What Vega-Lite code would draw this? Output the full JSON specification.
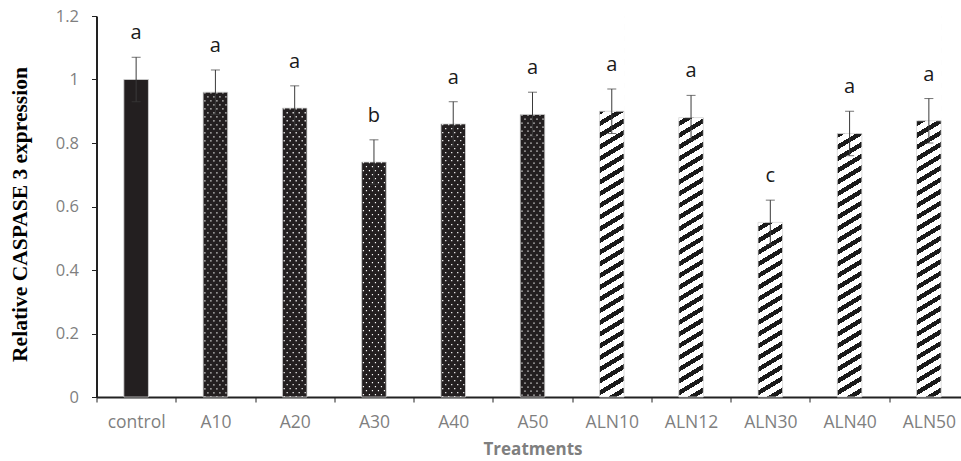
{
  "$schema": "https://vega.github.io/schema/vega-lite/v6.json",
  "width": 864,
  "height": 381,
  "autosize": {"type": "none"},
  "padding": {"left": 96.5, "top": 16, "right": 0, "bottom": 64},
  "config": {"font": "Open Sans", "view": {"stroke": null}},
  "data": {
    "values": [
      {"t": "control", "group": "control", "value": 1.0, "lower": 0.93, "upper": 1.07, "letter": "a"},
      {"t": "A10", "group": "A", "value": 0.96, "lower": 0.89, "upper": 1.03, "letter": "a"},
      {"t": "A20", "group": "A", "value": 0.91, "lower": 0.84, "upper": 0.98, "letter": "a"},
      {"t": "A30", "group": "A", "value": 0.74, "lower": 0.67, "upper": 0.81, "letter": "b"},
      {"t": "A40", "group": "A", "value": 0.86, "lower": 0.79, "upper": 0.93, "letter": "a"},
      {"t": "A50", "group": "A", "value": 0.89, "lower": 0.82, "upper": 0.96, "letter": "a"},
      {"t": "ALN10", "group": "ALN", "value": 0.90, "lower": 0.83, "upper": 0.97, "letter": "a"},
      {"t": "ALN12", "group": "ALN", "value": 0.88, "lower": 0.81, "upper": 0.95, "letter": "a"},
      {"t": "ALN30", "group": "ALN", "value": 0.55, "lower": 0.48, "upper": 0.62, "letter": "c"},
      {"t": "ALN40", "group": "ALN", "value": 0.83, "lower": 0.76, "upper": 0.90, "letter": "a"},
      {"t": "ALN50", "group": "ALN", "value": 0.87, "lower": 0.80, "upper": 0.94, "letter": "a"}
    ]
  },
  "encoding": {
    "x": {
      "field": "t", "type": "nominal", "sort": null,
      "scale": {"range": [0, 872], "paddingInner": 0, "paddingOuter": 0},
      "axis": {
        "title": "Treatments", "titleFont": "Open Sans", "titleFontWeight": "bold", "titleFontSize": 17, "titleColor": "#7f7f7f", "titlePadding": 11,
        "labelFont": "Open Sans", "labelFontSize": 17.5, "labelColor": "#7f7f7f", "labelAngle": 0, "labelPadding": 11,
        "tickBand": "extent", "tickSize": 5, "tickColor": "#222222", "tickWidth": 1,
        "domainColor": "#222222", "domainWidth": 2, "grid": false
      }
    }
  },
  "layer": [
    {
      "transform": [{"filter": "datum.group !== 'ALN'"}],
      "mark": {"type": "bar", "fill": "#231f20", "width": {"band": 0.31}},
      "encoding": {
        "y": {
          "field": "value", "type": "quantitative", "title": "Relative CASPASE 3 expression",
          "scale": {"domain": [0, 1.2], "nice": false},
          "axis": {
            "title": "Relative CASPASE 3 expression", "titleFont": "Liberation Serif", "titleFontWeight": "bold", "titleFontSize": 21.5, "titleColor": "#000000",
            "titleAngle": 270, "titleX": -76, "titleY": 198, "titleBaseline": "middle", "titleAlign": "center",
            "values": [0, 0.2, 0.4, 0.6, 0.8, 1, 1.2], "format": "~g",
            "labelFont": "Open Sans", "labelFontSize": 16.5, "labelColor": "#7f7f7f", "labelPadding": 13,
            "tickSize": 5, "tickColor": "#222222", "tickWidth": 1,
            "domainColor": "#222222", "domainWidth": 2, "grid": false
          }
        },
        "y2": {"datum": 0}
      }
    },
    {
      "transform": [{"filter": "datum.group === 'A'"}],
      "encoding": {
        "y": {"field": "value", "type": "quantitative", "title": "Relative CASPASE 3 expression"},
        "y2": {"datum": 0}
      },
      "layer": [
        {"mark": {"type": "rule", "color": "#ffffff", "strokeWidth": 1.2, "strokeDash": [1.3, 6.7], "strokeDashOffset": 0, "xOffset": -10.5}},
        {"mark": {"type": "rule", "color": "#ffffff", "strokeWidth": 1.2, "strokeDash": [1.3, 6.7], "strokeDashOffset": 4, "xOffset": -7.5}},
        {"mark": {"type": "rule", "color": "#ffffff", "strokeWidth": 1.2, "strokeDash": [1.3, 6.7], "strokeDashOffset": 0, "xOffset": -4.5}},
        {"mark": {"type": "rule", "color": "#ffffff", "strokeWidth": 1.2, "strokeDash": [1.3, 6.7], "strokeDashOffset": 4, "xOffset": -1.5}},
        {"mark": {"type": "rule", "color": "#ffffff", "strokeWidth": 1.2, "strokeDash": [1.3, 6.7], "strokeDashOffset": 0, "xOffset": 1.5}},
        {"mark": {"type": "rule", "color": "#ffffff", "strokeWidth": 1.2, "strokeDash": [1.3, 6.7], "strokeDashOffset": 4, "xOffset": 4.5}},
        {"mark": {"type": "rule", "color": "#ffffff", "strokeWidth": 1.2, "strokeDash": [1.3, 6.7], "strokeDashOffset": 0, "xOffset": 7.5}},
        {"mark": {"type": "rule", "color": "#ffffff", "strokeWidth": 1.2, "strokeDash": [1.3, 6.7], "strokeDashOffset": 4, "xOffset": 10.5}}
      ]
    },
    {
      "transform": [{"filter": "datum.group === 'ALN'"}],
      "mark": {
        "type": "bar", "width": {"band": 0.31},
        "fill": {
          "gradient": "linear", "x1": 0, "y1": 0, "x2": 0.0475, "y2": 1.2265,
          "stops": [
            {"offset": 0, "color": "#1a1a1a"}, {"offset": 0.011, "color": "#1a1a1a"}, {"offset": 0.011, "color": "#ffffff"}, {"offset": 0.025, "color": "#ffffff"},
            {"offset": 0.025, "color": "#1a1a1a"}, {"offset": 0.036, "color": "#1a1a1a"}, {"offset": 0.036, "color": "#ffffff"}, {"offset": 0.05, "color": "#ffffff"},
            {"offset": 0.05, "color": "#1a1a1a"}, {"offset": 0.061, "color": "#1a1a1a"}, {"offset": 0.061, "color": "#ffffff"}, {"offset": 0.075, "color": "#ffffff"},
            {"offset": 0.075, "color": "#1a1a1a"}, {"offset": 0.086, "color": "#1a1a1a"}, {"offset": 0.086, "color": "#ffffff"}, {"offset": 0.1, "color": "#ffffff"},
            {"offset": 0.1, "color": "#1a1a1a"}, {"offset": 0.111, "color": "#1a1a1a"}, {"offset": 0.111, "color": "#ffffff"}, {"offset": 0.125, "color": "#ffffff"},
            {"offset": 0.125, "color": "#1a1a1a"}, {"offset": 0.136, "color": "#1a1a1a"}, {"offset": 0.136, "color": "#ffffff"}, {"offset": 0.15, "color": "#ffffff"},
            {"offset": 0.15, "color": "#1a1a1a"}, {"offset": 0.161, "color": "#1a1a1a"}, {"offset": 0.161, "color": "#ffffff"}, {"offset": 0.175, "color": "#ffffff"},
            {"offset": 0.175, "color": "#1a1a1a"}, {"offset": 0.186, "color": "#1a1a1a"}, {"offset": 0.186, "color": "#ffffff"}, {"offset": 0.2, "color": "#ffffff"},
            {"offset": 0.2, "color": "#1a1a1a"}, {"offset": 0.211, "color": "#1a1a1a"}, {"offset": 0.211, "color": "#ffffff"}, {"offset": 0.225, "color": "#ffffff"},
            {"offset": 0.225, "color": "#1a1a1a"}, {"offset": 0.236, "color": "#1a1a1a"}, {"offset": 0.236, "color": "#ffffff"}, {"offset": 0.25, "color": "#ffffff"},
            {"offset": 0.25, "color": "#1a1a1a"}, {"offset": 0.261, "color": "#1a1a1a"}, {"offset": 0.261, "color": "#ffffff"}, {"offset": 0.275, "color": "#ffffff"},
            {"offset": 0.275, "color": "#1a1a1a"}, {"offset": 0.286, "color": "#1a1a1a"}, {"offset": 0.286, "color": "#ffffff"}, {"offset": 0.3, "color": "#ffffff"},
            {"offset": 0.3, "color": "#1a1a1a"}, {"offset": 0.311, "color": "#1a1a1a"}, {"offset": 0.311, "color": "#ffffff"}, {"offset": 0.325, "color": "#ffffff"},
            {"offset": 0.325, "color": "#1a1a1a"}, {"offset": 0.336, "color": "#1a1a1a"}, {"offset": 0.336, "color": "#ffffff"}, {"offset": 0.35, "color": "#ffffff"},
            {"offset": 0.35, "color": "#1a1a1a"}, {"offset": 0.361, "color": "#1a1a1a"}, {"offset": 0.361, "color": "#ffffff"}, {"offset": 0.375, "color": "#ffffff"},
            {"offset": 0.375, "color": "#1a1a1a"}, {"offset": 0.386, "color": "#1a1a1a"}, {"offset": 0.386, "color": "#ffffff"}, {"offset": 0.4, "color": "#ffffff"},
            {"offset": 0.4, "color": "#1a1a1a"}, {"offset": 0.411, "color": "#1a1a1a"}, {"offset": 0.411, "color": "#ffffff"}, {"offset": 0.425, "color": "#ffffff"},
            {"offset": 0.425, "color": "#1a1a1a"}, {"offset": 0.436, "color": "#1a1a1a"}, {"offset": 0.436, "color": "#ffffff"}, {"offset": 0.45, "color": "#ffffff"},
            {"offset": 0.45, "color": "#1a1a1a"}, {"offset": 0.461, "color": "#1a1a1a"}, {"offset": 0.461, "color": "#ffffff"}, {"offset": 0.475, "color": "#ffffff"},
            {"offset": 0.475, "color": "#1a1a1a"}, {"offset": 0.486, "color": "#1a1a1a"}, {"offset": 0.486, "color": "#ffffff"}, {"offset": 0.5, "color": "#ffffff"},
            {"offset": 0.5, "color": "#1a1a1a"}, {"offset": 0.511, "color": "#1a1a1a"}, {"offset": 0.511, "color": "#ffffff"}, {"offset": 0.525, "color": "#ffffff"},
            {"offset": 0.525, "color": "#1a1a1a"}, {"offset": 0.536, "color": "#1a1a1a"}, {"offset": 0.536, "color": "#ffffff"}, {"offset": 0.55, "color": "#ffffff"},
            {"offset": 0.55, "color": "#1a1a1a"}, {"offset": 0.561, "color": "#1a1a1a"}, {"offset": 0.561, "color": "#ffffff"}, {"offset": 0.575, "color": "#ffffff"},
            {"offset": 0.575, "color": "#1a1a1a"}, {"offset": 0.586, "color": "#1a1a1a"}, {"offset": 0.586, "color": "#ffffff"}, {"offset": 0.6, "color": "#ffffff"},
            {"offset": 0.6, "color": "#1a1a1a"}, {"offset": 0.611, "color": "#1a1a1a"}, {"offset": 0.611, "color": "#ffffff"}, {"offset": 0.625, "color": "#ffffff"},
            {"offset": 0.625, "color": "#1a1a1a"}, {"offset": 0.636, "color": "#1a1a1a"}, {"offset": 0.636, "color": "#ffffff"}, {"offset": 0.65, "color": "#ffffff"},
            {"offset": 0.65, "color": "#1a1a1a"}, {"offset": 0.661, "color": "#1a1a1a"}, {"offset": 0.661, "color": "#ffffff"}, {"offset": 0.675, "color": "#ffffff"},
            {"offset": 0.675, "color": "#1a1a1a"}, {"offset": 0.686, "color": "#1a1a1a"}, {"offset": 0.686, "color": "#ffffff"}, {"offset": 0.7, "color": "#ffffff"},
            {"offset": 0.7, "color": "#1a1a1a"}, {"offset": 0.711, "color": "#1a1a1a"}, {"offset": 0.711, "color": "#ffffff"}, {"offset": 0.725, "color": "#ffffff"},
            {"offset": 0.725, "color": "#1a1a1a"}, {"offset": 0.736, "color": "#1a1a1a"}, {"offset": 0.736, "color": "#ffffff"}, {"offset": 0.75, "color": "#ffffff"},
            {"offset": 0.75, "color": "#1a1a1a"}, {"offset": 0.761, "color": "#1a1a1a"}, {"offset": 0.761, "color": "#ffffff"}, {"offset": 0.775, "color": "#ffffff"},
            {"offset": 0.775, "color": "#1a1a1a"}, {"offset": 0.786, "color": "#1a1a1a"}, {"offset": 0.786, "color": "#ffffff"}, {"offset": 0.8, "color": "#ffffff"},
            {"offset": 0.8, "color": "#1a1a1a"}, {"offset": 0.811, "color": "#1a1a1a"}, {"offset": 0.811, "color": "#ffffff"}, {"offset": 0.825, "color": "#ffffff"},
            {"offset": 0.825, "color": "#1a1a1a"}, {"offset": 0.836, "color": "#1a1a1a"}, {"offset": 0.836, "color": "#ffffff"}, {"offset": 0.85, "color": "#ffffff"},
            {"offset": 0.85, "color": "#1a1a1a"}, {"offset": 0.861, "color": "#1a1a1a"}, {"offset": 0.861, "color": "#ffffff"}, {"offset": 0.875, "color": "#ffffff"},
            {"offset": 1, "color": "#ffffff"}
          ]
        }
      },
      "encoding": {
        "y": {"datum": 1.2, "type": "quantitative", "title": "Relative CASPASE 3 expression"},
        "y2": {"datum": 0}
      }
    },
    {
      "transform": [{"filter": "datum.group === 'ALN'"}],
      "mark": {"type": "bar", "fill": "#ffffff", "width": {"band": 0.33}},
      "encoding": {
        "y": {"field": "value", "type": "quantitative", "title": "Relative CASPASE 3 expression"},
        "y2": {"datum": 1.2}
      }
    },
    {
      "mark": {"type": "bar", "fill": null, "fillOpacity": 0, "stroke": "#d4d4d4", "strokeWidth": 0.8, "width": {"band": 0.31}},
      "encoding": {
        "y": {"field": "value", "type": "quantitative", "title": "Relative CASPASE 3 expression"},
        "y2": {"datum": 0}
      }
    },
    {
      "mark": {"type": "errorbar", "color": "#3a3a3a", "thickness": 1, "ticks": {"size": 9, "thickness": 1, "color": "#3a3a3a"}},
      "encoding": {
        "y": {"field": "lower", "type": "quantitative", "title": "Relative CASPASE 3 expression"},
        "y2": {"field": "upper"}
      }
    },
    {
      "mark": {"type": "text", "font": "Open Sans", "fontSize": 20, "color": "#1a1a1a", "baseline": "alphabetic", "dy": -18},
      "encoding": {
        "y": {"field": "upper", "type": "quantitative", "title": "Relative CASPASE 3 expression"},
        "text": {"field": "letter"}
      }
    }
  ]
}
